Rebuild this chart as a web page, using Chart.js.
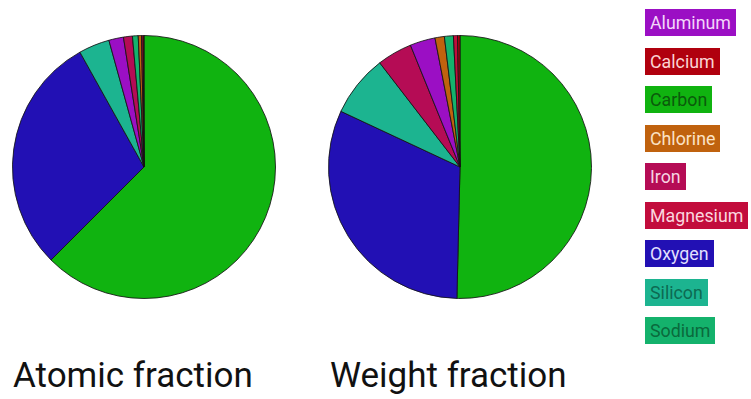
<!DOCTYPE html>
<html>
<head>
<meta charset="utf-8">
<script src="https://cdn.jsdelivr.net/npm/chart.js@4/dist/chart.umd.min.js"></script>
<style>
  html, body { margin: 0; padding: 0; background: #fff; }
  body { width: 751px; height: 399px; position: relative; overflow: hidden; font-family: Roboto, "Noto Sans", sans-serif; }
  .pie { position: absolute; top: 35px; }
  .title { position: absolute; top: 358px; font-size: 35px; color: #111; white-space: nowrap; line-height: 1; }
  #legend { position: absolute; left: 645px; top: 9px; }
  .item { height: 27px; margin-bottom: 11.5px; display: inline-block; clear: both; float: left;
          font-size: 17.8px; line-height: 27px; padding: 0 5px; box-sizing: border-box; white-space: nowrap; }
</style>
</head>
<body>
<canvas id="atomic" class="pie" width="264" height="264" style="left:12px"></canvas>
<canvas id="weight" class="pie" width="264" height="264" style="left:328px"></canvas>
<div class="title" style="left:13px">Atomic fraction</div>
<div class="title" style="left:330px">Weight fraction</div>
<div id="legend"></div>
<script>
// Elements in legend order, with their share (%) by atom count and by weight
const elements = ["Aluminum", "Calcium", "Carbon", "Chlorine", "Iron", "Magnesium", "Oxygen", "Silicon", "Sodium"];
const atomicFraction = [1.8, 0.1, 62.5, 0.4, 1.1, 0.2, 29.4, 3.8, 0.7];
const weightFraction = [3.1, 0.3, 50.4, 1.15, 4.3, 0.5, 31.6, 7.6, 1.1];
const fillColors = ["#9b0fc4", "#b0000e", "#10b310", "#c0620e", "#b50c55", "#c20c3c", "#2210b4", "#1cb490", "#14b26c"];
const textColors = ["#f3d6fa", "#fbd4d4", "#0b5a0b", "#fbe2c6", "#f6d3e2", "#fbd6df", "#e2e0ff", "#0d6a52", "#0a6a3c"];

// Slices run clockwise from 12 o'clock, largest first
function pie(id, values) {
  const order = values.map((v, i) => i).sort((a, b) => values[b] - values[a]);
  new Chart(document.getElementById(id), {
    type: "pie",
    data: {
      labels: order.map(i => elements[i]),
      datasets: [{
        data: order.map(i => values[i]),
        backgroundColor: order.map(i => fillColors[i]),
        borderColor: "rgba(20,20,20,0.85)",
        borderWidth: 1
      }]
    },
    options: {
      responsive: false,
      animation: false,
      layout: { padding: 0 },
      plugins: { legend: { display: false }, tooltip: { enabled: false } }
    }
  });
}
pie("atomic", atomicFraction);
pie("weight", weightFraction);

const legend = document.getElementById("legend");
elements.forEach((name, i) => {
  const d = document.createElement("div");
  d.className = "item";
  d.textContent = name;
  d.style.background = fillColors[i];
  d.style.color = textColors[i];
  legend.appendChild(d);
});
</script>
</body>
</html>
